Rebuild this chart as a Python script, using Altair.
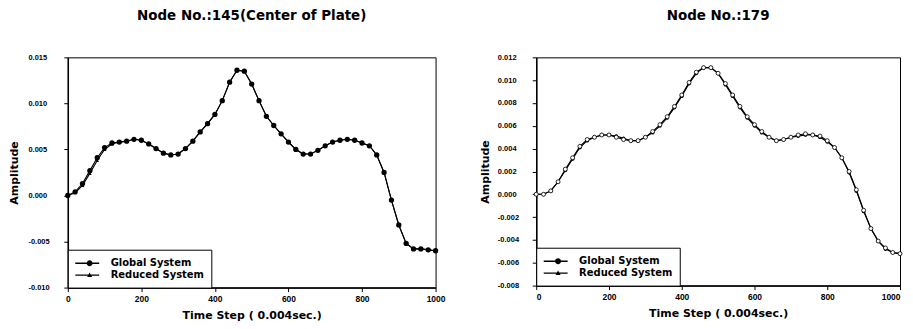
import altair as alt
import pandas as pd

time_steps = list(range(0, 1001, 20))

node145_global = [
    0.0000, 0.0004, 0.0013, 0.0027, 0.0041, 0.0052, 0.0057, 0.0058, 0.0059, 0.0061,
    0.0060, 0.0056, 0.0051, 0.0046, 0.0044, 0.0045, 0.0051, 0.0059, 0.0069, 0.0078,
    0.0088, 0.0103, 0.0123, 0.0136, 0.0135, 0.0121, 0.0103, 0.0086, 0.0076, 0.0067,
    0.0058, 0.0050, 0.0045, 0.0045, 0.0049, 0.0054, 0.0058, 0.0060, 0.0061, 0.0060,
    0.0057, 0.0054, 0.0044, 0.0025, -0.0005, -0.0032, -0.0052, -0.0058, -0.0058, -0.0059,
    -0.0060,
]
node145_reduced = [
    0.0000, 0.0003, 0.0011, 0.0024, 0.0038, 0.0050, 0.0056, 0.0058, 0.0059, 0.0061,
    0.0060, 0.0056, 0.0051, 0.0046, 0.0044, 0.0045, 0.0051, 0.0059, 0.0069, 0.0078,
    0.0088, 0.0103, 0.0123, 0.0136, 0.0135, 0.0121, 0.0103, 0.0086, 0.0076, 0.0067,
    0.0058, 0.0050, 0.0045, 0.0045, 0.0049, 0.0054, 0.0058, 0.0060, 0.0061, 0.0060,
    0.0057, 0.0054, 0.0044, 0.0025, -0.0005, -0.0032, -0.0052, -0.0058, -0.0058, -0.0059,
    -0.0060,
]
node179_global = [
    0.0000, 0.0000, 0.0003, 0.0011, 0.0021, 0.0031, 0.0041, 0.0047, 0.0050, 0.0052,
    0.0052, 0.0051, 0.0049, 0.0047, 0.0047, 0.0050, 0.0054, 0.0060, 0.0067, 0.0076,
    0.0086, 0.0097, 0.0106, 0.0111, 0.0111, 0.0106, 0.0096, 0.0086, 0.0076, 0.0067,
    0.0060, 0.0054, 0.0050, 0.0047, 0.0048, 0.0050, 0.0051, 0.0052, 0.0052, 0.0050,
    0.0046, 0.0041, 0.0032, 0.0019, 0.0003, -0.0015, -0.0030, -0.0041, -0.0048, -0.0051,
    -0.0052,
]
node179_reduced = [
    0.0000, 0.0000, 0.0003, 0.0011, 0.0022, 0.0032, 0.0042, 0.0048, 0.0050, 0.0052,
    0.0052, 0.0050, 0.0048, 0.0047, 0.0047, 0.0050, 0.0055, 0.0061, 0.0068, 0.0077,
    0.0087, 0.0098, 0.0107, 0.0111, 0.0111, 0.0106, 0.0097, 0.0087, 0.0077, 0.0068,
    0.0061, 0.0055, 0.0050, 0.0047, 0.0048, 0.0050, 0.0052, 0.0053, 0.0052, 0.0051,
    0.0047, 0.0041, 0.0032, 0.0020, 0.0004, -0.0014, -0.0030, -0.0041, -0.0047, -0.0051,
    -0.0052,
]

series_names = ["Global System", "Reduced System"]
x_ticks = [0, 200, 400, 600, 800, 1000]
node145_yticks = [-0.010, -0.005, 0.000, 0.005, 0.010, 0.015]
node179_yticks = [-0.008, -0.006, -0.004, -0.002, 0.000, 0.002, 0.004, 0.006, 0.008, 0.010, 0.012]

FONT = "Liberation Sans"
TFONT = "DejaVu Sans"
# legend symbols: a thin filled bar (the line) with a marker, all clockwise
CIRCLE_LINE = ("M-1,-0.12L3,-0.12L3,0.12L-1,0.12Z"
               "M0.9,0A0.5,0.5 0 1,1 1.9,0A0.5,0.5 0 1,1 0.9,0Z")
TRI_LINE = ("M-1,-0.12L3,-0.12L3,0.12L-1,0.12Z"
            "M1.4,-0.45L1.82,0.32L0.98,0.32Z")
LABEL_EXPR = "(datum.value < -0.00001 ? '-' : '') + format(abs(datum.value), '.3f')"


def panel(title, g, r, ymin, ymax, yticks, width, height, right_style, ytitle_pad,
          ylabel_pad, xflush):
    df = pd.DataFrame({
        "step": time_steps * 2,
        "amp": g + r,
        "series": [series_names[0]] * len(g) + [series_names[1]] * len(r),
    })
    x = alt.X("step:Q", scale=alt.Scale(domain=[0, 1000], nice=False),
              axis=alt.Axis(values=x_ticks, format="d", title="Time Step ( 0.004sec.)",
                            labelFlush=xflush, titlePadding=7, labelFontSize=8.5,
                            labelPadding=3))
    y = alt.Y("amp:Q", scale=alt.Scale(domain=[ymin, ymax], nice=False, zero=False),
              axis=alt.Axis(values=yticks, title="Amplitude", labelExpr=LABEL_EXPR,
                            titlePadding=ytitle_pad, labelAlign="left",
                            labelPadding=ylabel_pad))
    base = alt.Chart(df).encode(x=x, y=y)
    lines = base.mark_line(color="black", strokeWidth=1.1).encode(detail="series:N")
    glob_df = base.transform_filter(alt.datum.series == series_names[0])
    red_df = base.transform_filter(alt.datum.series == series_names[1])
    if right_style:
        glob = glob_df.mark_point(shape="circle", filled=True, color="black", size=14, opacity=1)
        red = red_df.mark_point(shape="circle", filled=True, fill="white", stroke="black",
                                strokeWidth=0.8, size=16, opacity=1)
        layers = [lines, glob, red]
    else:
        red = red_df.mark_point(shape="triangle-up", filled=True, color="black", size=14, opacity=1)
        glob = glob_df.mark_point(shape="circle", filled=True, color="black", size=28, opacity=1)
        layers = [lines, red, glob]
    legend_layer = alt.Chart(pd.DataFrame({"series": series_names})).transform_filter(
        "false"
    ).mark_point(filled=False, fill="black", stroke="black", strokeWidth=1, opacity=1).encode(
        shape=alt.Shape(
            "series:N",
            scale=alt.Scale(domain=series_names, range=[CIRCLE_LINE, TRI_LINE]),
            legend=alt.Legend(
                title=None, orient="bottom-left", offset=0, strokeColor="black",
                fillColor="white", padding=7, labelFont=TFONT, labelFontSize=10,
                labelFontWeight="bold", labelColor="black", symbolSize=144,
                symbolStrokeWidth=1, symbolStrokeColor="black", symbolFillColor="black",
                symbolOpacity=1, rowPadding=0, labelOffset=23,
            ),
        )
    )
    return alt.layer(*layers, legend_layer).resolve_scale(shape="independent").properties(
        width=width, height=height,
        title=alt.Title(title, offset=26, dy=-5),
    )


left = panel("Node No.:145(Center of Plate)", node145_global, node145_reduced,
             -0.010, 0.015, node145_yticks, 369, 231, False, 8, 36, False)
right = panel("Node No.:179", node179_global, node179_reduced,
              -0.008, 0.012, node179_yticks, 365, 229, True, 7, 35, True)

chart = alt.hconcat(left, right, spacing=33).properties(
    padding={"left": 0, "top": 0, "right": 0, "bottom": 0}
).configure_view(
    stroke="black", strokeWidth=1
).configure_axis(
    grid=False, domainColor="black", domainWidth=1.5, tickColor="black", tickSize=4,
    labelFont=FONT, labelFontSize=7.5, labelFontWeight="bold", labelColor="black",
    labelPadding=4, titleFont=TFONT, titleFontSize=11, titleFontWeight="bold",
    titleColor="black",
).configure_title(
    font=TFONT, fontSize=13.5, fontWeight="bold", color="black", anchor="middle"
)

chart.save("out.html", embed_options={"renderer": "svg", "actions": False})
